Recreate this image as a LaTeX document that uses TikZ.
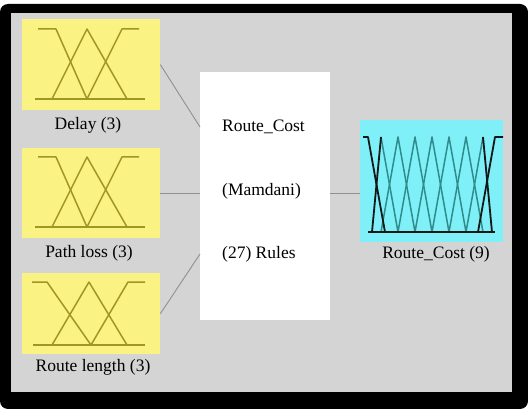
\documentclass[tikz,border=0pt]{standalone}
\usepackage{fontspec}
\setmainfont{Liberation Serif}
\definecolor{bggray}{HTML}{D4D4D4}
\definecolor{yellowbg}{HTML}{FAF282}
\definecolor{cyanbg}{HTML}{80F0F8}
\definecolor{olivemf}{HTML}{A09628}
\definecolor{tealmf}{HTML}{2E8C8C}
\definecolor{darkmf}{HTML}{101818}
\definecolor{conngray}{HTML}{909090}
\begin{document}
\begin{tikzpicture}[x=1pt,y=-1pt,
  box/.style={draw=none,inner sep=0pt,anchor=north west},
  lbl/.style={font=\fontsize{17.5}{20}\selectfont,inner sep=0pt},
  conn/.style={draw=conngray,line width=0.9pt},
  mfin/.style={draw=olivemf,line width=1.5pt,line join=round},
  mfout/.style={draw=tealmf,line width=1.5pt,line join=round},
  mfedge/.style={draw=darkmf,line width=1.8pt,line join=round}]
\useasboundingbox (0,0) rectangle (528,409);
\fill[white] (0,0) rectangle (528,409);
\fill[black,rounded corners=8pt] (0,4) rectangle (528,409);
\fill[bggray] (11,13) rectangle (512,392);
% boxes
\node[box,fill=yellowbg,minimum width=138pt,minimum height=91pt] (delay) at (22,19) {};
\node[box,fill=yellowbg,minimum width=138pt,minimum height=90pt] (pathloss) at (22,148) {};
\node[box,fill=yellowbg,minimum width=138pt,minimum height=81pt] (routelen) at (22,273) {};
\node[box,fill=white,minimum width=130pt,minimum height=248pt] (rules) at (200,72) {};
\node[box,fill=cyanbg,minimum width=143pt,minimum height=122pt] (cost) at (360,120) {};
% labels
\node[lbl] (ldelay) at (88,125) {Delay (3)};
\node[lbl] (lpath) at (89,253) {Path loss (3)};
\node[lbl] (lroute) at (93,367) {Route length (3)};
\node[lbl] (lcost) at (436,254) {Route\_Cost (9)};
\node[lbl,anchor=west] (t1) at (222,127) {Route\_Cost};
\node[lbl,anchor=west] (t2) at (222,191) {(Mamdani)};
\node[lbl,anchor=west] (t3) at (222,254) {(27) Rules};
% connectors
\draw[conn] (delay.east) -- (rules.west |- t1.west);
\draw[conn] (pathloss.east) -- (rules.west |- pathloss.east);
\draw[conn] (rules.east |- pathloss.east) -- (cost.west |- pathloss.east);
\draw[conn] (routelen.east) -- (rules.west |- t3.west);
% membership functions: Delay
\draw[mfin] (35,99) -- (145,99);
\draw[mfin] (38,29) -- (56,29) -- (87,99);
\draw[mfin] (52,99) -- (87,29) -- (127,99);
\draw[mfin] (87,99) -- (122,29) -- (139,29);
% Path loss
\draw[mfin] (35,227) -- (145,227);
\draw[mfin] (38,157) -- (56,157) -- (87,227);
\draw[mfin] (52,227) -- (87,157) -- (127,227);
\draw[mfin] (87,227) -- (122,157) -- (139,157);
% Route length
\draw[mfin] (33,345) -- (145,345);
\draw[mfin] (32,282) -- (47,282) -- (91,345);
\draw[mfin] (52,345) -- (89,282) -- (127,345);
\draw[mfin] (91,345) -- (128,282) -- (145,282);
% Route cost output
\foreach \p in {398,415,432,449,466}
  \draw[mfout] (\p-17,232) -- (\p,137) -- (\p+17,232);
\draw[mfout] (381,137) -- (398,232);
\draw[mfout] (466,232) -- (483,137);
\draw[mfedge] (368,232) -- (495,232);
\draw[mfedge] (363,137) -- (368,137) -- (385,232);
\draw[mfedge] (372,232) -- (381,137);
\draw[mfedge] (483,137) -- (492,232);
\draw[mfedge] (478,232) -- (495,137) -- (503,137);
\end{tikzpicture}
\end{document}
